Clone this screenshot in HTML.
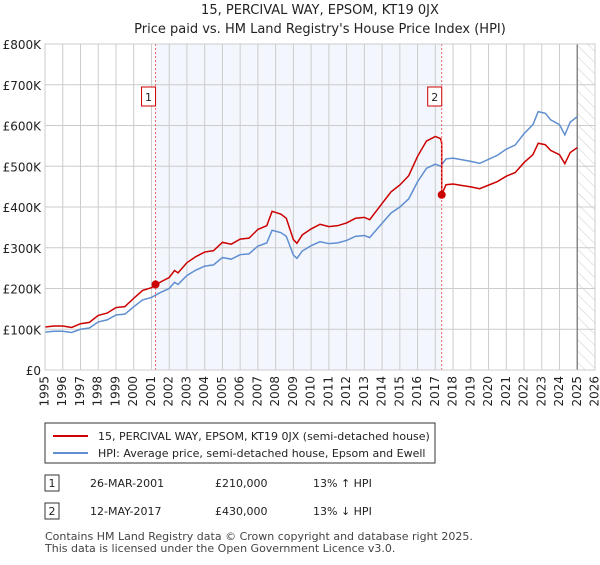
<!DOCTYPE html>
<html><head><meta charset="utf-8"><style>
body{margin:0;background:#fff;font-family:"Liberation Sans","DejaVu Sans",sans-serif;}
svg text{font-family:"DejaVu Sans","Liberation Sans",sans-serif;}
</style></head><body>
<svg id="c" width="600" height="560" xmlns="http://www.w3.org/2000/svg">
<defs><pattern id="hatch" width="8" height="8" patternUnits="userSpaceOnUse" patternTransform="rotate(-45)"><line x1="0" y1="0" x2="0" y2="8" stroke="#ccc" stroke-width="1"/></pattern></defs>
<text x="320" y="14" text-anchor="middle" font-size="13" fill="#222">15, PERCIVAL WAY, EPSOM, KT19 0JX</text>
<text x="320" y="33" text-anchor="middle" font-size="13" fill="#222">Price paid vs. HM Land Registry's House Price Index (HPI)</text>
<g id="plot"></g>
<g>
<rect x="45" y="423" width="390" height="40" fill="#fff" stroke="#333"/>
<line x1="53" y1="436" x2="88" y2="436" stroke="#cc0000" stroke-width="2"/>
<text x="98" y="440" font-size="11" fill="#222">15, PERCIVAL WAY, EPSOM, KT19 0JX (semi-detached house)</text>
<line x1="53" y1="453" x2="88" y2="453" stroke="#5f8fd0" stroke-width="2"/>
<text x="98" y="457" font-size="11" fill="#222">HPI: Average price, semi-detached house, Epsom and Ewell</text>
</g>
<g font-size="11" fill="#222">
<rect x="45" y="475" width="14" height="16" fill="#fff" stroke="#333"/><text x="52" y="487" text-anchor="middle">1</text>
<text x="90" y="487">26-MAR-2001</text><text x="215" y="487">£210,000</text><text x="313" y="487">13% ↑ HPI</text>
<rect x="45" y="503" width="14" height="16" fill="#fff" stroke="#333"/><text x="52" y="515" text-anchor="middle">2</text>
<text x="90" y="515">12-MAY-2017</text><text x="215" y="515">£430,000</text><text x="313" y="515">13% ↓ HPI</text>
</g>
<text x="45" y="540" font-size="11" fill="#444">Contains HM Land Registry data © Crown copyright and database right 2025.</text>
<text x="45" y="552" font-size="11" fill="#444">This data is licensed under the Open Government Licence v3.0.</text>
</svg>
<script>
const hpiYears=[1995,1995.5,1996,1996.5,1997,1997.5,1998,1998.5,1999,1999.5,2000,2000.5,2001,2001.5,2002,2002.3,2002.5,2003,2003.5,2004,2004.5,2005,2005.5,2006,2006.5,2007,2007.5,2007.8,2008.3,2008.6,2009,2009.2,2009.5,2010,2010.5,2011,2011.5,2012,2012.5,2013,2013.3,2013.7,2014,2014.5,2015,2015.5,2016,2016.5,2017,2017.3,2017.6,2018,2018.5,2019,2019.5,2020,2020.5,2021,2021.5,2022,2022.5,2022.8,2023.2,2023.5,2024,2024.3,2024.6,2025];
const hpiValues=[93,95,95,92,100,103,118,123,135,137,155,172,178,190,200,215,210,232,245,255,258,276,272,283,285,304,312,343,337,328,282,274,292,305,315,310,312,318,328,330,325,345,360,385,400,420,462,495,505,500,518,520,516,512,507,517,527,542,552,580,602,634,630,614,602,577,608,622];
const saleYears=[2001.23,2017.36];
const salePrices=[210000,430000];
const saleHpi=[185,490];
const yTicks=[0,100,200,300,400,500,600,700,800];
const yLabels=["£0","£100K","£200K","£300K","£400K","£500K","£600K","£700K","£800K"];
const xYears=[];for(let y=1995;y<=2026;y++)xYears.push(y);

const L=45,R=595,T=44,B=370;
const xs=y=>L+(y-1995)*(R-L)/31;
const ys=v=>B-v*(B-T)/800;
const NS="http://www.w3.org/2000/svg";
const g=document.getElementById('plot');
function mk(t,a){const e=document.createElementNS(NS,t);for(const k in a)e.setAttribute(k,a[k]);g.appendChild(e);return e;}
const band=mk('rect',{x:xs(saleYears[0]),y:T,width:xs(saleYears[1])-xs(saleYears[0]),height:B-T,fill:'#f3f6fd'});


const hat=mk('rect',{x:xs(2025),y:T,width:R-xs(2025),height:B-T,fill:'url(#hatch)'});


yTicks.forEach((v,i)=>{
 const l=mk('line',{x1:L,x2:R,y1:ys(v),y2:ys(v),stroke:'#ccc'});
 
 
 const t=mk('text',{x:L-4,y:ys(v)+5,'text-anchor':'end','font-size':'12',fill:'#222'});
 t.textContent=yLabels[i];
 
 
});
xYears.forEach(y=>{
 const l=mk('line',{x1:xs(y),x2:xs(y),y1:T,y2:B,stroke:'#ccc'});
 
 
 const t=mk('text',{x:xs(y),y:B+6,'font-size':'12',fill:'#222',transform:`rotate(-90 ${xs(y)} ${B+6})`,'text-anchor':'end','dominant-baseline':'middle'});
 t.textContent=y;
 
 
});
const fl=mk('line',{x1:xs(2025),x2:xs(2025),y1:T,y2:B,stroke:'#888','stroke-width':1.5});


const r1=salePrices[0]/1000/saleHpi[0],r2=salePrices[1]/1000/saleHpi[1];
let redPts=[];
hpiYears.forEach((y,i)=>{ if(y<saleYears[1]) redPts.push([xs(y),ys(hpiValues[i]*r1)]); });
redPts.push([xs(saleYears[1]),ys(saleHpi[1]*r1)]);
redPts.push([xs(saleYears[1]),ys(salePrices[1]/1000)]);
hpiYears.forEach((y,i)=>{ if(y>saleYears[1]) redPts.push([xs(y),ys(hpiValues[i]*r2)]); });
const hp=mk('polyline',{points:hpiYears.map((y,i)=>xs(y)+','+ys(hpiValues[i])).join(' '),fill:'none',stroke:'#5f8fd0','stroke-width':1.5});


const rp=mk('polyline',{points:redPts.map(p=>p.join(',')).join(' '),fill:'none',stroke:'#cc0000','stroke-width':1.5});


saleYears.forEach((y,i)=>{
 const v=mk('line',{x1:xs(y),x2:xs(y),y1:T,y2:B,stroke:'#e66','stroke-dasharray':'2,2'});
 
 
 const c=mk('circle',{cx:xs(y),cy:ys(salePrices[i]/1000),r:4,fill:'#cc0000'});
 
 
 const bx=mk('rect',{x:xs(y)-14,y:87,width:14,height:19,fill:'#fff',stroke:'#cc0000'});
 
 
 const t=mk('text',{x:xs(y)-7,y:101,'text-anchor':'middle','font-size':'11',fill:'#222'});
 t.textContent=String(i+1);
 
 
});
const ax=mk('rect',{x:L,y:T,width:R-L,height:B-T,fill:'none',stroke:'#ccc'});


</script>
</body></html>
